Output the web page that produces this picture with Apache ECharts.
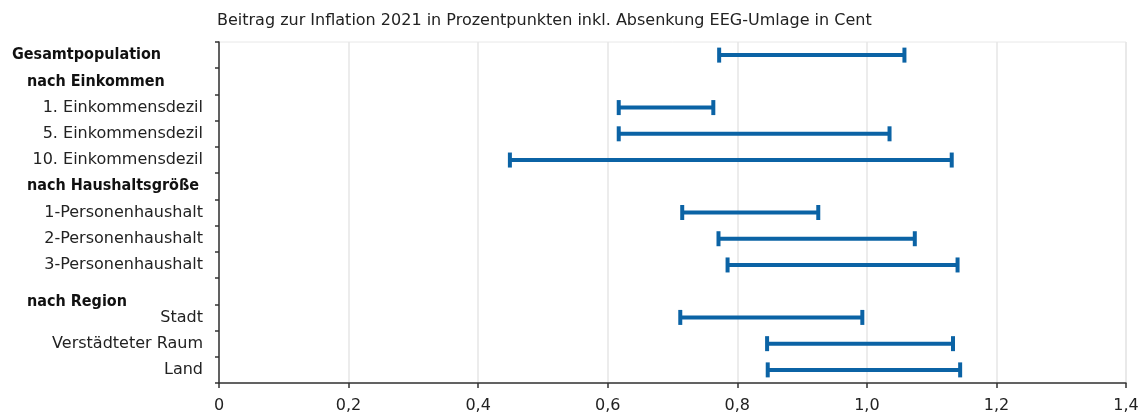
<!DOCTYPE html>
<html>
<head>
<meta charset="utf-8">
<script src="https://cdn.jsdelivr.net/npm/echarts@6/dist/echarts.min.js"></script>
<style>
  html, body { margin: 0; padding: 0; background: #fff; }
  #chart { width: 1142px; height: 415px; }
</style>
</head>
<body>
<div id="chart"></div>
<script>
const titleText = 'Beitrag zur Inflation 2021 in Prozentpunkten inkl. Absenkung EEG-Umlage in Cent';
const categories = [
  'Gesamtpopulation',
  'nach Einkommen',
  '1. Einkommensdezil',
  '5. Einkommensdezil',
  '10. Einkommensdezil',
  'nach Haushaltsgröße',
  '1-Personenhaushalt',
  '2-Personenhaushalt',
  '3-Personenhaushalt',
  'nach Region',
  'Stadt',
  'Verstädteter Raum',
  'Land'
];
const topHeading = ['Gesamtpopulation'];
const groupHeadings = ['nach Einkommen', 'nach Haushaltsgröße'];
const lowerHeading = ['nach Region'];
// lower / upper bounds (null = no bar)
const lowValues  = [0.772, null, 0.617, 0.617, 0.449, null, 0.715, 0.771, 0.785, null, 0.712, 0.846, 0.847];
const highValues = [1.058, null, 0.763, 1.035, 1.131, null, 0.925, 1.074, 1.140, null, 0.993, 1.133, 1.144];
const xTicks = [0, 0.2, 0.4, 0.6, 0.8, 1.0, 1.2, 1.4];

const barColor = '#0b63a5';
const data = [];
categories.forEach((c, i) => {
  if (lowValues[i] != null) data.push([i, lowValues[i], highValues[i]]);
});

const chart = echarts.init(document.getElementById('chart'));
chart.setOption({
  animation: false,
  backgroundColor: '#fff',
  title: {
    text: titleText,
    left: 212,
    top: 8,
    textStyle: { fontFamily: 'DejaVu Sans', fontSize: 16, fontWeight: 'normal', color: '#222' }
  },
  grid: {
    left: 219, right: 16, top: 42, bottom: 32,
    show: true, borderColor: '#e8e8e8', borderWidth: 1
  },
  xAxis: {
    type: 'value',
    min: 0, max: 1.4, interval: 0.2,
    axisLine: { show: true, lineStyle: { color: '#333', width: 1.5 } },
    axisTick: { show: true, length: 5, lineStyle: { color: '#333', width: 1.5 } },
    splitLine: { show: true, lineStyle: { color: '#e6e6e6', width: 1.5 } },
    axisLabel: {
      margin: 15,
      fontFamily: 'DejaVu Sans', fontSize: 16, color: '#222',
      formatter: v => {
        const t = xTicks.find(x => Math.abs(x - v) < 1e-9);
        return (t != null ? t : v).toFixed(t === 0 ? 0 : 1).replace('.', ',');
      }
    }
  },
  yAxis: {
    type: 'category',
    inverse: true,
    data: categories,
    axisLine: { show: true, lineStyle: { color: '#333', width: 1.5 } },
    axisTick: { show: true, length: 4, lineStyle: { color: '#333', width: 1.5 } },
    splitLine: { show: false },
    axisLabel: {
      margin: 16,
      fontFamily: 'DejaVu Sans', fontSize: 16, color: '#222',
      formatter: v => {
        if (topHeading.includes(v)) return '{t|' + v + '}';
        if (groupHeadings.includes(v)) return '{h|' + v + '}';
        if (lowerHeading.includes(v)) return '{r|' + v + '}';
        return v;
      },
      rich: {
        t: { fontFamily: "'DejaVu Sans Condensed', 'Liberation Sans'", fontWeight: 'bold', fontSize: 16, color: '#111', width: 191, align: 'left' },
        h: { fontFamily: "'DejaVu Sans Condensed', 'Liberation Sans'", fontWeight: 'bold', fontSize: 16, color: '#111', width: 176, align: 'left' },
        r: { fontFamily: "'DejaVu Sans Condensed', 'Liberation Sans'", fontWeight: 'bold', fontSize: 16, color: '#111', width: 176, align: 'left', padding: [22, 0, 0, 0] }
      }
    }
  },
  series: [{
    type: 'custom',
    data: data,
    encode: { x: [1, 2], y: 0 },
    renderItem: (params, api) => {
      const cat = api.value(0);
      const p1 = api.coord([api.value(1), cat]);
      const p2 = api.coord([api.value(2), cat]);
      const capH = 15;
      const st = { stroke: barColor, lineWidth: 4, lineCap: 'butt' };
      return {
        type: 'group',
        children: [
          { type: 'line', shape: { x1: p1[0], y1: p1[1], x2: p2[0], y2: p2[1] }, style: st },
          { type: 'line', shape: { x1: p1[0], y1: p1[1] - capH / 2, x2: p1[0], y2: p1[1] + capH / 2 }, style: st },
          { type: 'line', shape: { x1: p2[0], y1: p2[1] - capH / 2, x2: p2[0], y2: p2[1] + capH / 2 }, style: st }
        ]
      };
    }
  }]
});
</script>
</body>
</html>
